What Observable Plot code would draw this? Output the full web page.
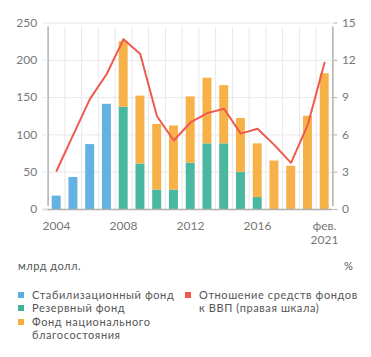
<!DOCTYPE html>
<html>
<head>
<meta charset="utf-8">
<script src="https://cdn.jsdelivr.net/npm/d3@7"></script>
<script src="https://cdn.jsdelivr.net/npm/@observablehq/plot@0.6"></script>
<style>
  body { margin: 0; background: #fff; font-family: Lato, "Open Sans", sans-serif; }
  #wrap { width: 371px; position: relative; }
  .units { position: relative; height: 16px; margin-top: 8px; font-size: 11px; letter-spacing: 0.5px; color: #555; line-height: 13.4px; }
  .units .l { position: absolute; left: 18px; top: 1px; }
  .units .r { position: absolute; left: 344px; top: 1px; }
  .legend { display: flex; margin-top: 14px; font-size: 11px; letter-spacing: 0.6px; color: #555; line-height: 13.4px; }
  .col { display: flex; flex-direction: column; }
  .item { display: flex; align-items: flex-start; }
  .sw { width: 6px; height: 6px; margin-top: 4px; margin-right: 8px; flex: none; }
</style>
</head>
<body>
<div id="wrap">
  <div id="chart"></div>
  <div class="units"><span class="l">млрд долл.</span><span class="r">%</span></div>
  <div class="legend" id="legend"></div>
</div>
<script>
const categories = ["2004","2005","2006","2007","2008","2009","2010","2011","2012","2013","2014","2015","2016","2017","2018","2019","фев. 2021"];
const stabFund    = [18, 43, 87, 141, 0, 0, 0, 0, 0, 0, 0, 0, 0, 0, 0, 0, 0];
const reserveFund = [0, 0, 0, 0, 137, 61, 26, 26, 62, 88, 88, 50, 16, 0, 0, 0, 0];
const nwfFund     = [0, 0, 0, 0, 88, 91, 88, 86, 89, 88, 78, 72, 72, 65, 58, 125, 182];
const gdpRatio    = [3.1, 6.0, 8.9, 10.9, 13.7, 12.5, 7.5, 5.55, 7.0, 7.75, 8.1, 6.1, 6.5, 5.2, 3.75, 6.8, 11.8];
const xTickIdx    = [0, 4, 8, 12, 16];
const xTickLabels = ["2004", "2008", "2012", "2016", "фев.\n2021"];
const leftTicks   = [0, 50, 100, 150, 200, 250];
const rightTicks  = [0, 3, 6, 9, 12, 15];

const seriesNames = ["Стабилизационный фонд", "Резервный фонд", "Фонд национального благосостояния"];
const seriesColors = ["#5cade2", "#40b39b", "#f6ae3e"];
const lineName = "Отношение средств фондов к ВВП (правая шкала)";
const lineColor = "#ee5a4e";

const LMAX = 250, RMAX = 15;

// stacked table
const seriesValues = [stabFund, reserveFund, nwfFund];
const bars = [];
categories.forEach((c, i) => {
  let acc = 0;
  seriesValues.forEach((vals, s) => {
    const v = vals[i];
    if (v > 0) {
      bars.push({i, series: seriesNames[s], y1: acc, y2: acc + v});
      acc += v;
    }
  });
});
const lineData = gdpRatio.map((r, i) => ({i, r}));

const gridColor = "#e8e8e8";
const axisColor = "#b0b0b0";

const chart = Plot.plot({
  width: 371,
  height: 250,
  marginTop: 22.5,
  marginBottom: 41,
  marginLeft: 47.6,
  marginRight: 38.6,
  style: {fontFamily: "Lato, 'Open Sans', sans-serif", fontSize: "12px", color: "#777"},
  x: {domain: [0, categories.length], axis: null},
  y: {domain: [0, LMAX], axis: null},
  color: {domain: seriesNames, range: seriesColors},
  marks: [
    Plot.gridY(leftTicks, {stroke: gridColor, strokeOpacity: 1, strokeWidth: 1}),
    Plot.ruleX(d3.range(1, categories.length), {stroke: gridColor, strokeWidth: 1, y1: 0, y2: LMAX, insetBottom: -4}),
    Plot.rectY(bars, {x1: "i", x2: d => d.i + 1, y1: "y1", y2: "y2", fill: "series", insetLeft: 4.1, insetRight: 3.7, fillOpacity: 0.95}),
    Plot.ruleY([0], {stroke: axisColor, strokeWidth: 1.5, insetLeft: -5}),
    Plot.ruleX([0, categories.length], {stroke: axisColor, strokeWidth: 1.5, y1: 0, y2: LMAX, insetTop: -3, insetBottom: -4}),
    Plot.line(lineData, {x: d => d.i + 0.5, y: d => d.r * LMAX / RMAX, stroke: lineColor, strokeWidth: 2}),
    Plot.axisY({ticks: leftTicks, tickSize: 5, tickPadding: 6, stroke: gridColor, fill: "#777", label: null}),
    Plot.axisY({anchor: "right", ticks: rightTicks.map(t => t * LMAX / RMAX), tickFormat: d => Math.round(d * RMAX / LMAX), tickSize: 4, tickPadding: 5, stroke: axisColor, fill: "#777", label: null}),
    Plot.axisX({ticks: xTickIdx.map(i => i + 0.5), tickFormat: (d, k) => xTickLabels[k], tickSize: 0, tickPadding: 10, fill: "#777", lineHeight: 1.2, label: null})
  ]
});
document.getElementById("chart").appendChild(chart);

// legend
const legend = document.getElementById("legend");
const col1 = document.createElement("div");
col1.className = "col";
col1.style.marginLeft = "18px";
col1.style.width = "167px";
seriesNames.forEach((n, k) => {
  const it = document.createElement("div");
  it.className = "item";
  const label = k === 2 ? "Фонд национального<br>благосостояния" : n;
  it.innerHTML = `<span class="sw" style="background:${seriesColors[k]}"></span><span>${label}</span>`;
  col1.appendChild(it);
});
const col2 = document.createElement("div");
col2.className = "col";
const it2 = document.createElement("div");
it2.className = "item";
it2.innerHTML = `<span class="sw" style="background:${lineColor}"></span><span>Отношение средств фондов<br>к ВВП (правая шкала)</span>`;
col2.appendChild(it2);
legend.appendChild(col1);
legend.appendChild(col2);
</script>
</body>
</html>
